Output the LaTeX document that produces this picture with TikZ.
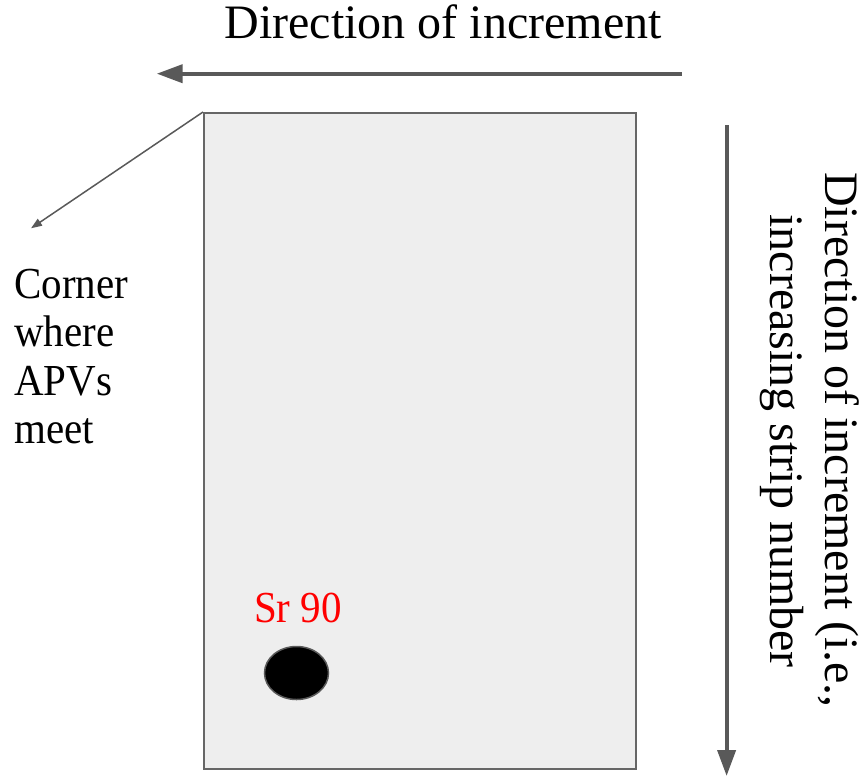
\documentclass[tikz,border=0pt]{standalone}
\usepackage{fontspec}
\setmainfont{Liberation Serif}
\usetikzlibrary{arrows.meta,shapes.geometric}
\definecolor{arrowgray}{HTML}{595959}
\definecolor{boxfill}{HTML}{EEEEEE}
\definecolor{boxedge}{HTML}{666666}
\tikzset{
  bigarrow/.style={draw=arrowgray, line width=4pt, -{Triangle[length=26pt,width=18pt]}},
  thinarrow/.style={draw=arrowgray, line width=1.5pt, -{Triangle[length=11pt,width=8pt]}},
  bigtext/.style={font=\fontsize{48}{55}\selectfont, inner sep=0pt, anchor=base},
  midtext/.style={font=\fontsize{41}{47}\selectfont, inner sep=0pt, yscale=1.08},
}
\begin{document}
\begin{tikzpicture}[x=1pt,y=-1pt]
\useasboundingbox (0,0) rectangle (866,776);
% detector
\node[draw=boxedge, fill=boxfill, line width=1.5pt, minimum width=432pt, minimum height=656pt, inner sep=0pt, anchor=north west] (det) at (203,112) {};
\coordinate (corner) at (det.north west);
% top arrow
\coordinate (ta1) at (682,73.7);
\coordinate (ta2) at (156.7,73.7);
\draw[bigarrow] (ta1) -- (ta2);
\node[bigtext] (toplabel) at (443,39) {Direction of increment};
% vertical arrow
\coordinate (va1) at (726.6,125);
\coordinate (va2) at (726.6,776);
\draw[bigarrow] (va1) -- (va2);
\node[bigtext, rotate=-90] (sidelabel1) at (825,440) {Direction of increment (i.e.,};
\node[bigtext, rotate=-90] (sidelabel2) at (770,441) {increasing strip number};
% corner arrow
\coordinate (ctip) at (31,228.3);
\draw[thinarrow] (corner) -- (ctip);
\node[midtext, anchor=base west] (c1) at (14,298) {Corner};
\node[midtext, anchor=base west] (c2) at (14,346.5) {where};
\node[midtext, anchor=base west] (c3) at (14,395) {APVs};
\node[midtext, anchor=base west] (c4) at (14,443) {meet};
% source
\node[midtext, anchor=base, text=red] (srlabel) at (298,622.7) {Sr 90};
\node[draw=arrowgray, fill=black, line width=1.5pt, ellipse, minimum width=64pt, minimum height=53pt, inner sep=0pt] (src) at (296.5,673) {};
\end{tikzpicture}
\end{document}
